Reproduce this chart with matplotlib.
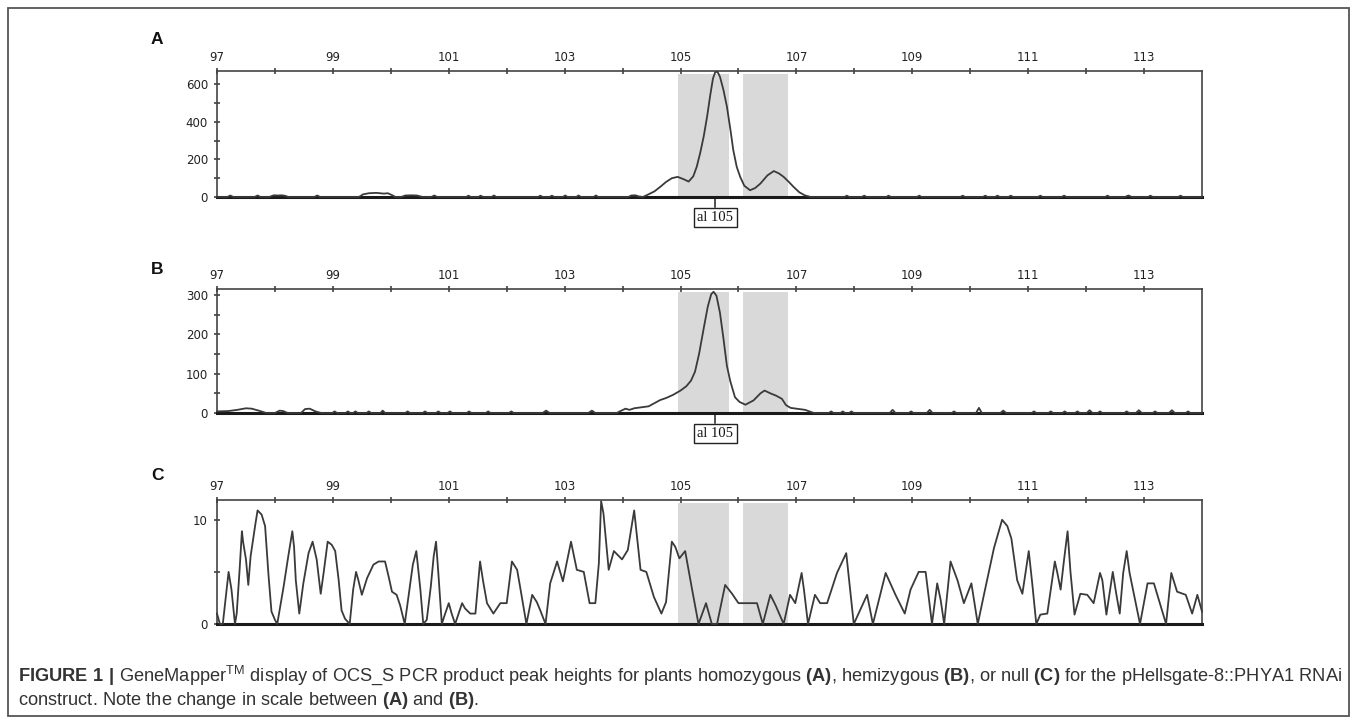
import matplotlib
matplotlib.use("Agg")
import matplotlib.pyplot as plt
from matplotlib.patches import Rectangle
from matplotlib.ticker import FixedLocator

plt.rcParams['mathtext.fontset'] = 'custom'
plt.rcParams['mathtext.rm'] = 'Liberation Sans'
plt.rcParams['mathtext.bf'] = 'Liberation Sans:bold'

# ---------------- data ----------------
size_ticks_major = [97, 99, 101, 103, 105, 107, 109, 111, 113]
size_ticks_minor = [98, 100, 102, 104, 106, 108, 110, 112]
bins = [(104.96, 105.84), (106.08, 106.86)]
allele_pos = 105.6
allele_label = "al 105"

a_x = [97.0, 97.18, 97.23, 97.28, 97.65, 97.70, 97.75, 97.90, 97.98, 98.05, 98.12, 98.18, 98.23,
       98.68, 98.73, 98.78, 99.45, 99.52, 99.62, 99.75, 99.88, 99.95, 100.02, 100.08, 100.18,
       100.25, 100.35, 100.45, 100.55, 100.70, 100.75, 100.80, 101.30, 101.34, 101.38, 101.51,
       101.55, 101.59, 101.74, 101.78, 101.82, 102.54, 102.58, 102.62, 102.74, 102.78, 102.82,
       102.97, 103.01, 103.05, 103.20, 103.24, 103.28, 103.50, 103.54, 103.58, 104.10, 104.15,
       104.22, 104.28, 104.35, 104.42, 104.55, 104.65, 104.75, 104.85, 104.95, 105.05, 105.14,
       105.22, 105.28, 105.34, 105.40, 105.46, 105.51, 105.56, 105.60, 105.64, 105.68, 105.74,
       105.80, 105.86, 105.91, 105.97, 106.03, 106.10, 106.20, 106.29, 106.38, 106.50, 106.61,
       106.70, 106.78, 106.87, 106.95, 107.05, 107.15, 107.25, 107.83, 107.87, 107.91, 108.13,
       108.17, 108.21, 108.55, 108.59, 108.63, 109.08, 109.12, 109.16, 109.83, 109.87, 109.91,
       110.22, 110.26, 110.30, 110.43, 110.47, 110.51, 110.66, 110.70, 110.74, 111.17, 111.21,
       111.25, 111.58, 111.62, 111.66, 112.33, 112.37, 112.41, 112.67, 112.73, 112.79, 113.07,
       113.11, 113.15, 113.59, 113.63, 113.67, 114.0]
a_y = [0, 0, 8, 0, 0, 8, 0, 0, 9, 8, 9, 6, 0,
       0, 8, 0, 0, 14, 20, 22, 18, 20, 10, 0, 0,
       8, 9, 8, 0, 0, 8, 0, 0, 7, 0, 0,
       7, 0, 0, 8, 0, 0, 7, 0, 0, 7, 0,
       0, 8, 0, 0, 8, 0, 0, 8, 0, 0, 8,
       9, 3, 0, 10, 30, 54, 80, 100, 107, 95, 82,
       110, 161, 235, 322, 430, 536, 630, 665, 665, 640, 570,
       482, 360, 250, 160, 107, 60, 36, 48, 72, 115, 138,
       125, 107, 80, 54, 25, 8, 0, 0, 7, 0, 0,
       7, 0, 0, 7, 0, 0, 7, 0, 0, 7, 0,
       0, 7, 0, 0, 7, 0, 0, 7, 0, 0, 7,
       0, 0, 7, 0, 0, 7, 0, 0, 8, 0, 0,
       7, 0, 0, 7, 0, 0]

b_x = [97.0, 97.2, 97.35, 97.5, 97.6, 97.72, 97.85, 98.0, 98.08, 98.14, 98.22, 98.45, 98.52,
       98.6, 98.7, 98.8, 98.99, 99.03, 99.07, 99.22, 99.26, 99.30, 99.35, 99.39, 99.43, 99.58,
       99.62, 99.66, 99.82, 99.86, 99.90, 100.25, 100.29, 100.33, 100.55, 100.59, 100.63,
       100.78, 100.82, 100.86, 100.98, 101.02, 101.06, 101.31, 101.35, 101.39, 101.64, 101.68,
       101.72, 102.04, 102.08, 102.12, 102.62, 102.68, 102.74, 103.41, 103.47, 103.53, 103.9,
       103.95, 104.05, 104.12, 104.2, 104.3, 104.45, 104.55, 104.65, 104.75, 104.87, 105.0,
       105.1, 105.18, 105.25, 105.32, 105.40, 105.47, 105.53, 105.57, 105.62, 105.68, 105.74,
       105.80, 105.86, 105.94, 106.02, 106.12, 106.26, 106.38, 106.45, 106.55, 106.65, 106.75,
       106.82, 106.9, 107.0, 107.15, 107.3, 107.56, 107.6, 107.64, 107.76, 107.8, 107.84,
       107.91, 107.95, 107.99, 108.61, 108.66, 108.71, 108.94, 108.98, 109.02, 109.25, 109.3,
       109.35, 109.68, 109.72, 109.76, 110.10, 110.15, 110.20, 110.52, 110.57, 110.62, 111.06,
       111.1, 111.14, 111.35, 111.39, 111.43, 111.59, 111.63, 111.67, 111.81, 111.85, 111.89,
       112.01, 112.06, 112.11, 112.20, 112.24, 112.28, 112.66, 112.7, 112.74, 112.86, 112.91,
       112.96, 113.15, 113.19, 113.23, 113.43, 113.48, 113.53, 113.72, 113.76, 113.80, 114.0]
b_y = [4, 5, 8, 12, 11, 6, 0, 0, 6, 5, 0, 0, 10,
       11, 4, 0, 0, 4, 0, 0, 4, 0, 0, 4, 0, 0,
       4, 0, 0, 6, 0, 0, 4, 0, 0, 4, 0,
       0, 4, 0, 0, 4, 0, 0, 4, 0, 0, 4,
       0, 0, 4, 0, 0, 6, 0, 0, 6, 0, 0,
       4, 11, 8, 12, 14, 17, 25, 33, 38, 46, 57,
       68, 82, 105, 150, 215, 270, 302, 308, 298, 255, 190,
       120, 80, 40, 28, 21, 32, 50, 57, 50, 44, 36,
       20, 13, 11, 8, 0, 0, 4, 0, 0, 4, 0,
       0, 4, 0, 0, 8, 0, 0, 4, 0, 0, 8,
       0, 0, 4, 0, 0, 13, 0, 0, 6, 0, 0,
       4, 0, 0, 4, 0, 0, 4, 0, 0, 4, 0,
       0, 7, 0, 0, 4, 0, 0, 4, 0, 0, 7,
       0, 0, 4, 0, 0, 7, 0, 0, 4, 0, 0]

c_x = [97.00, 97.05, 97.10, 97.20, 97.25, 97.31, 97.34, 97.39, 97.43, 97.45, 97.50, 97.54, 97.58,
       97.66, 97.70, 97.77, 97.83, 97.89, 97.94, 98.00, 98.04, 98.15, 98.23, 98.30, 98.33, 98.36,
       98.42, 98.49, 98.58, 98.65, 98.72, 98.79, 98.84, 98.91, 98.98, 99.04, 99.10, 99.15, 99.21,
       99.29, 99.35, 99.40, 99.44, 99.50, 99.59, 99.70, 99.79, 99.90, 99.96, 100.02, 100.10,
       100.16, 100.24, 100.32, 100.38, 100.44, 100.51, 100.56, 100.62, 100.69, 100.74, 100.78,
       100.82, 100.88, 100.92, 101.00, 101.05, 101.11, 101.17, 101.23, 101.28, 101.37, 101.46,
       101.51, 101.54, 101.59, 101.66, 101.77, 101.89, 102.00, 102.09, 102.18, 102.23, 102.34,
       102.44, 102.52, 102.58, 102.67, 102.75, 102.87, 102.97, 103.11, 103.21, 103.33, 103.43,
       103.53, 103.59, 103.63, 103.67, 103.76, 103.85, 103.99, 104.09, 104.20, 104.31, 104.41,
       104.54, 104.67, 104.75, 104.85, 104.91, 104.98, 105.08, 105.20, 105.31, 105.44, 105.54,
       105.63, 105.77, 105.89, 106.00, 106.32, 106.42, 106.55, 106.64, 106.78, 106.89, 106.98,
       107.09, 107.13, 107.20, 107.32, 107.41, 107.53, 107.70, 107.86, 107.99, 108.22, 108.32,
       108.54, 108.71, 108.87, 108.97, 109.11, 109.23, 109.34, 109.43, 109.49, 109.55, 109.66,
       109.78, 109.89, 110.02, 110.13, 110.24, 110.41, 110.55, 110.64, 110.71, 110.81, 110.90,
       111.01, 111.07, 111.14, 111.21, 111.33, 111.39, 111.46, 111.50, 111.56, 111.62, 111.68,
       111.73, 111.80, 111.90, 112.02, 112.13, 112.24, 112.28, 112.35, 112.46, 112.52, 112.58,
       112.64, 112.70, 112.75, 112.93, 113.06, 113.17, 113.38, 113.47, 113.57, 113.72, 113.83,
       113.92, 114.00]
c_y = [1.0, 0, 0, 5.0, 3.3, 0, 1.0, 5.2, 8.9, 7.9, 6.2, 3.75, 6.5,
       9.5, 10.9, 10.5, 9.4, 4.6, 1.2, 0.4, 0, 3.6, 6.5, 8.9, 7.4, 4.2,
       1.0, 3.9, 6.8, 7.9, 6.2, 2.9, 4.9, 7.9, 7.6, 7.0, 4.2, 1.3, 0.5,
       0, 3.3, 5.0, 4.2, 2.8, 4.4, 5.7, 6.0, 6.0, 4.6, 3.1, 2.8,
       1.8, 0, 3.3, 5.7, 7.0, 3.3, 0, 0.4, 3.6, 6.5, 7.9,
       4.9, 0, 0.7, 2.0, 1.0, 0, 1.0, 2.0, 1.5, 1.0, 1.0,
       4.2, 6.0, 4.2, 2.0, 1.0, 2.0, 2.0, 6.0, 5.2, 3.6, 0,
       2.8, 2.1, 1.3, 0, 3.9, 6.0, 4.1, 7.9, 5.2, 5.0, 2.0,
       2.0, 5.8, 11.8, 10.6, 5.2, 7.0, 6.2, 7.1, 10.9, 5.2, 5.0,
       2.6, 1.0, 2.1, 7.9, 7.4, 6.3, 7.0, 3.3, 0, 2.0, 0,
       0, 3.75, 2.9, 2.0, 2.0, 0, 2.8, 1.8, 0, 2.8, 2.0,
       4.9, 3.3, 0, 2.8, 2.0, 2.0, 4.9, 6.8, 0, 2.8, 0,
       4.9, 2.8, 1.0, 3.3, 5.0, 5.0, 0, 3.9, 2.3, 0, 6.0,
       4.2, 2.0, 3.9, 0, 2.9, 7.3, 10.0, 9.4, 8.2, 4.2, 2.9,
       7.0, 3.9, 0, 0.9, 1.0, 3.3, 6.0, 5.0, 3.3, 6.2, 8.9,
       5.0, 0.9, 2.9, 2.8, 2.0, 4.9, 4.2, 0.9, 5.0, 2.9, 1.0,
       4.9, 7.0, 4.9, 0, 3.9, 3.9, 0, 4.9, 3.1, 2.8, 1.0,
       2.8, 1.2]

panels = [
    dict(label="A", x=a_x, y=a_y, ylim=670, major=[0, 200, 400, 600], minor=[100, 300, 500],
         top=71, bottom=197, allele=True, shade=True),
    dict(label="B", x=b_x, y=b_y, ylim=315, major=[0, 100, 200, 300], minor=[50, 150, 250],
         top=289, bottom=413, allele=True, shade=False),
    dict(label="C", x=c_x, y=c_y, ylim=11.9, major=[0, 10], minor=[5],
         top=500, bottom=624, allele=False, shade=True),
]
panels[1]['shade'] = True
label_y = {"A": 40, "B": 270, "C": 476}

# ---------------- figure ----------------
W, H = 1357, 724
fig = plt.figure(figsize=(W / 100, H / 100), dpi=100)

left_px, right_px = 217, 1202
line_col = '#3a3a3a'
for p in panels:
    ax = fig.add_axes([left_px / W, (H - p['bottom']) / H, (right_px - left_px) / W,
                       (p['bottom'] - p['top']) / H])
    ax.set_xlim(97, 114)
    ax.set_ylim(0, p['ylim'])
    for (b0, b1) in bins:
        ax.axvspan(b0, b1, ymin=0, ymax=0.975, color='#d9d9d9', lw=0, zorder=0)
    ax.plot(p['x'], p['y'], color=line_col, lw=1.3, zorder=3, clip_on=False)
    ax.xaxis.tick_top()
    ax.xaxis.set_major_locator(FixedLocator(size_ticks_major))
    ax.xaxis.set_minor_locator(FixedLocator(size_ticks_minor))
    ax.set_xticklabels([str(v) for v in size_ticks_major])
    ax.yaxis.set_major_locator(FixedLocator(p['major']))
    ax.yaxis.set_minor_locator(FixedLocator(p['minor']))
    ax.set_yticklabels([str(v) for v in p['major']])
    ax.tick_params(axis='both', which='both', direction='inout', length=5, width=1.1,
                   color='#333333', labelsize=8.5, labelcolor='#222222')
    ax.tick_params(axis='x', which='both', top=True, bottom=False, pad=2.5)
    ax.tick_params(axis='y', which='both', left=True, right=False, pad=4)
    for s in ['top', 'left', 'right']:
        ax.spines[s].set_color('#444444')
        ax.spines[s].set_linewidth(1.2)
    ax.spines['bottom'].set_color('#1a1a1a')
    ax.spines['bottom'].set_linewidth(2.2)
    for t in ax.get_xticklabels() + ax.get_yticklabels():
        t.set_family(['DejaVu Sans'])
    if p['allele']:
        trans = ax.get_xaxis_transform()
        h = p['bottom'] - p['top']
        ax.plot([allele_pos, allele_pos], [0, -10 / h], transform=trans, color='#222222',
                lw=1.1, clip_on=False)
        ax.annotate(allele_label, xy=(allele_pos, 0), xycoords=trans,
                    xytext=(0, -20.5 * 0.72), textcoords='offset points', ha='center', va='center',
                    fontsize=10.5, family=['Liberation Serif', 'DejaVu Serif'], color='#111111',
                    bbox=dict(boxstyle='square,pad=0.22', fc='white', ec='#222222', lw=1.0))
    fig.text(157 / W, 1 - label_y[p['label']] / H, p['label'], fontsize=12.5, fontweight='bold',
             family=['Liberation Sans', 'DejaVu Sans'], ha='center', va='center', color='#111111')

# frame
fig.add_artist(Rectangle((8 / W, 1 - 716 / H), (1349 - 8) / W, (716 - 8) / H,
                         transform=fig.transFigure, fill=False, ec='#555555', lw=1.3))

# caption
line1 = (r"$\mathbf{FIGURE\ 1\ |}$ GeneMapper$^{\mathrm{TM}}$ display of OCS_S PCR product peak heights "
         r"for plants homozygous $\mathbf{(A)}$, hemizygous $\mathbf{(B)}$, or null $\mathbf{(C)}$ "
         r"for the pHellsgate-8::PHYA1 RNAi")
line2 = r"construct. Note the change in scale between $\mathbf{(A)}$ and $\mathbf{(B)}$."
cap_kw = dict(family=['Liberation Sans', 'DejaVu Sans'], color='#333333', ha='left', va='baseline')
t1 = fig.text(18 / W, 1 - 681 / H, line1, fontsize=11, **cap_kw)
renderer = fig.canvas.get_renderer()
w1 = t1.get_window_extent(renderer).width
fs = 11 * (1338 - 18) / w1
t1.set_fontsize(fs)
fig.text(18 / W, 1 - 705 / H, line2, fontsize=fs, **cap_kw)

fig.savefig("out.png", dpi=100)
